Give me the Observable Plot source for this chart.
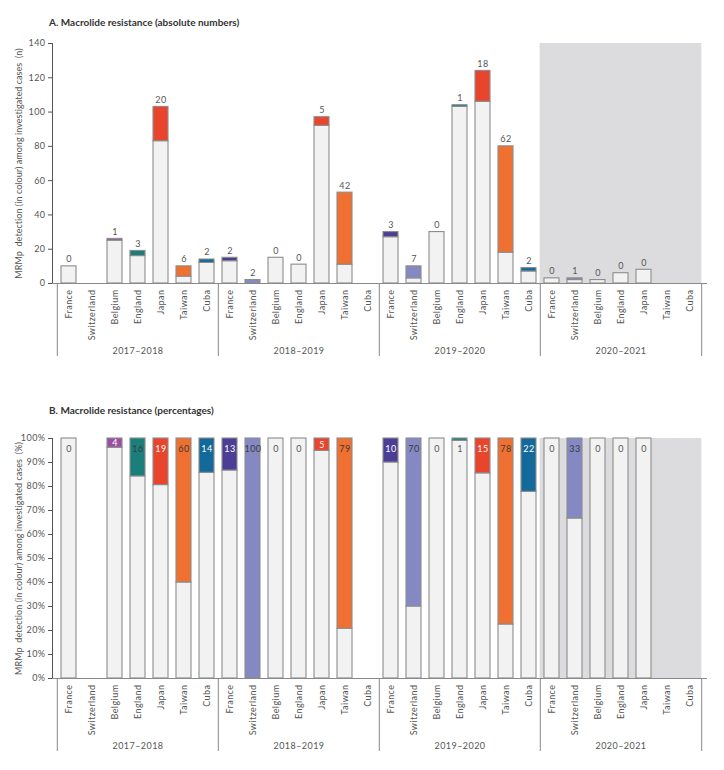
<!DOCTYPE html>
<html>
<head>
<meta charset="utf-8">
<script src="https://cdn.jsdelivr.net/npm/d3@7"></script>
<script src="https://cdn.jsdelivr.net/npm/@observablehq/plot@0.6"></script>
<style>
  body { margin: 0; background: #fff; font-family: Lato, "Open Sans", sans-serif; }
  .title { font-weight: bold; font-size: 10px; color: #333; padding-left: 49px; height: 16px; line-height: 16px; }
  #a svg, #b svg { display: block; }
  g[aria-label="y-axis label"] text { letter-spacing: 0.05px; }
</style>
</head>
<body>
<div class="title" style="padding-top:14px">A. Macrolide resistance (absolute numbers)</div>
<div id="a"></div>
<div class="title" style="padding-top:42px">B. Macrolide resistance (percentages)</div>
<div id="b"></div>
<script>
// ---- data ----
const periods = ["2017–2018", "2018–2019", "2019–2020", "2020–2021"];
const countries = ["France", "Switzerland", "Belgium", "England", "Japan", "Taiwan", "Cuba"];
const countryColors = ["#4b3e94", "#8489c4", "#9b4fa0", "#1a7f7a", "#e8452c", "#ef7030", "#13699a"];
// investigated cases per period (null = no data)
const investigated = [
  [10, null, 26, 19, 103, 10, 14],
  [15, 2, 15, 11, 97, 53, null],
  [30, 10, 30, 104, 124, 80, 9],
  [3, 3, 2, 6, 8, null, null]
];
// macrolide-resistant M. pneumoniae (MRMp) detected
const resistant = [
  [0, null, 1, 3, 20, 6, 2],
  [2, 2, 0, 0, 5, 42, null],
  [3, 7, 0, 1, 18, 62, 2],
  [0, 1, 0, 0, 0, null, null]
];
const shadedPeriods = ["2020–2021"];
const countTicks = [0, 20, 40, 60, 80, 100, 120, 140];
const pctTicks = [0, 10, 20, 30, 40, 50, 60, 70, 80, 90, 100];
const darkLabelCountries = ["Switzerland", "England", "Taiwan"];

// ---- derived table ----
const key = (p, c) => p + "|" + c;
const xDomain = periods.flatMap(p => countries.map(c => key(p, c)));
const rows = [];
periods.forEach((p, i) => countries.forEach((c, j) => {
  const n = investigated[i][j];
  if (n == null) return;
  const r = resistant[i][j];
  rows.push({key: key(p, c), period: p, country: c, n, r, s: n - r, pct: r / n * 100});
}));
const shade = shadedPeriods.flatMap(p => countries.map(c => ({key: key(p, c)})));

const W = 724, ML = 52, MR = 17;
const inner = 0.33;
const step = (W - ML - MR) / xDomain.length;
const ext = -(step * inner) / 2 - 0.5;
const stroke = "#8c8c8c";

function panel({yMax, ticks, tickFormat, label, marginTop, marginBottom, height, whiteTop, colorBottom, colorTop, labelMarks, shadeTop}) {
  return Plot.plot({
    width: W,
    height,
    marginLeft: ML,
    marginRight: MR,
    marginTop,
    marginBottom,
    style: {fontFamily: "Lato, sans-serif", fontSize: "9px", letterSpacing: "0.45px", color: "#555", background: "transparent", display: "block"},
    x: {
      domain: xDomain,
      paddingInner: inner,
      paddingOuter: inner / 2,
      tickFormat: k => k.split("|")[1],
      tickRotate: -90,
      tickSize: 0,
      tickPadding: 6,
      label: null
    },
    y: {
      domain: [0, yMax],
      ticks,
      tickFormat,
      tickSize: 4,
      tickPadding: 3,
      line: true,
      label,
      labelAnchor: "center",
      labelArrow: false,
      labelOffset: 37
    },
    color: {type: "ordinal", domain: countries, range: countryColors},
    marks: [
      Plot.barY(shade, {x: "key", y1: 0, y2: shadeTop, fill: "#dcdcde", insetLeft: ext, insetRight: ext}),
      Plot.barY(rows, {x: "key", y1: 0, y2: whiteTop, fill: "#f2f2f2", stroke, strokeWidth: 1.1}),
      Plot.barY(rows.filter(d => d.r > 0), {x: "key", y1: colorBottom, y2: colorTop, fill: "country", stroke, strokeWidth: 1.1}),
      Plot.ruleY([0], {stroke: "#888"}),
      Plot.ruleX(periods, {x: p => key(p, countries[0]), y1: 0, y2: 0, dx: -step / 2, insetBottom: -73, stroke: "#888"}),
      Plot.ruleX(periods.slice(-1), {x: p => key(p, countries[countries.length - 1]), y1: 0, y2: 0, dx: step / 2, insetBottom: -73, stroke: "#888"}),
      Plot.text(periods, {x: p => key(p, countries[3]), y: 0, dy: 68, text: d => d, fontSize: 9, fill: "#555"}),
      ...labelMarks
    ]
  });
}

const chartA = panel({
  yMax: 140, ticks: countTicks, tickFormat: d => d,
  label: "MRMp  detection (in colour) among investigated cases  (n)",
  marginTop: 13, marginBottom: 77, height: 330,
  whiteTop: "s", colorBottom: "s", colorTop: "n", shadeTop: 140,
  labelMarks: [
    Plot.text(rows, {x: "key", y: "n", text: "r", dy: -7, fontSize: 9, fill: "#555"})
  ]
});
document.getElementById("a").append(chartA);

// percentage label sits in the coloured segment near the top of the bar
const pctText = d => String(Math.round(d.pct));
const pctY = d => d.pct < 2 ? 95.4 : 100 - Math.min(d.pct / 2, 4.6);
const chartB = panel({
  yMax: 100, ticks: pctTicks, tickFormat: d => d + "%",
  label: "MRMp  detection (in colour) among investigated cases  (%)",
  marginTop: 20, marginBottom: 92, height: 352,
  whiteTop: d => 100 - d.pct, colorBottom: d => 100 - d.pct, colorTop: () => 100, shadeTop: 100,
  labelMarks: [
    Plot.text(rows.filter(d => d.r === 0 || d.pct < 2), {x: "key", y: pctY, text: pctText, fontSize: 9, fill: "#555"}),
    Plot.text(rows.filter(d => d.pct >= 2 && darkLabelCountries.includes(d.country)), {x: "key", y: pctY, text: pctText, fontSize: 9, fill: "#3a3a3a"}),
    Plot.text(rows.filter(d => d.pct >= 2 && !darkLabelCountries.includes(d.country)), {x: "key", y: pctY, text: pctText, fontSize: 9, fill: "#ffffff"})
  ]
});
document.getElementById("b").append(chartB);
</script>
</body>
</html>
